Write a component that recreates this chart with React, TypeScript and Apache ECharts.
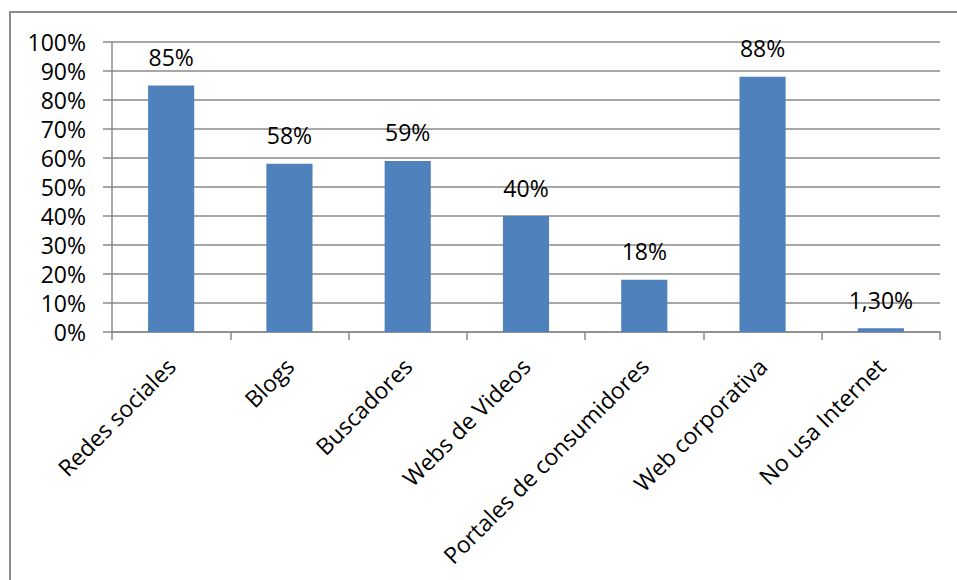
import React, { useEffect, useRef } from "react";
import * as echarts from "echarts";

const categories = [
  "Redes sociales",
  "Blogs",
  "Buscadores",
  "Webs de Videos",
  "Portales de consumidores",
  "Web corporativa",
  "No usa Internet",
];
const values = [85, 58, 59, 40, 18, 88, 1.3];
const yTicks = { min: 0, max: 100, interval: 10 };

const FONT = "'Open Sans', 'Liberation Sans', sans-serif";
const GRID_COLOR = "#8a8a8a";

function fmt(v: number): string {
  return Number.isInteger(v) ? `${v}%` : `${v.toFixed(2).replace(".", ",")}%`;
}

export default function App() {
  const ref = useRef<HTMLDivElement>(null);
  useEffect(() => {
    if (!ref.current) return;
    const chart = echarts.init(ref.current, undefined, { renderer: "svg" });
    chart.setOption({
      animation: false,
      backgroundColor: "#ffffff",
      graphic: [
        {
          type: "rect",
          shape: { x: 10, y: 12, width: 1000, height: 1000 },
          style: { fill: "none", stroke: "#8c8c8c", lineWidth: 2 },
          silent: true,
        },
      ],
      grid: { left: 112, right: 17, top: 42, bottom: 248, containLabel: false },
      xAxis: {
        type: "category",
        data: categories,
        axisLine: { show: true, lineStyle: { color: GRID_COLOR, width: 1.5 } },
        axisTick: {
          show: true,
          alignWithLabel: false,
          inside: false,
          length: 8,
          lineStyle: { color: GRID_COLOR, width: 1.5 },
        },
        axisLabel: {
          interval: 0,
          rotate: 45,
          margin: 30,
          fontSize: 23,
          fontFamily: FONT,
          color: "#000000",
        },
      },
      yAxis: {
        type: "value",
        min: yTicks.min,
        max: yTicks.max,
        interval: yTicks.interval,
        axisLine: { show: true, lineStyle: { color: GRID_COLOR, width: 1.5 } },
        axisTick: {
          show: true,
          inside: false,
          length: 9,
          lineStyle: { color: GRID_COLOR, width: 1.5 },
        },
        splitLine: { show: true, lineStyle: { color: GRID_COLOR, width: 1.5 } },
        axisLabel: {
          formatter: "{value}%",
          margin: 26,
          fontSize: 23,
          fontFamily: FONT,
          color: "#000000",
        },
      },
      series: [
        {
          type: "bar",
          data: values,
          barWidth: "39%",
          itemStyle: { color: "#4f81bd" },
          label: {
            show: true,
            position: "top",
            distance: 17,
            fontSize: 23,
            fontFamily: FONT,
            color: "#000000",
            formatter: (p: any) => fmt(p.value),
          },
        },
      ],
    });
    return () => chart.dispose();
  }, []);
  return (
    <div
      ref={ref}
      style={{ position: "fixed", left: 0, top: 0, width: 957, height: 580 }}
    />
  );
}
